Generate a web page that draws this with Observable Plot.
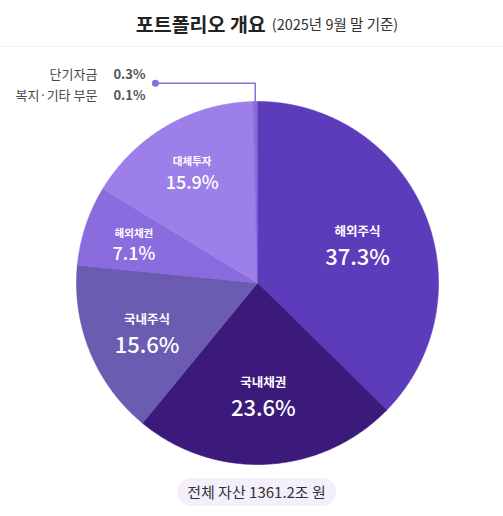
<!DOCTYPE html>
<html><head><meta charset="utf-8">
<script src="https://cdn.jsdelivr.net/npm/d3@7"></script>
<script src="https://cdn.jsdelivr.net/npm/@observablehq/plot@0.6"></script>
<style>
body{margin:0;background:#fff;font-family:"Noto Sans CJK KR","Noto Sans",sans-serif;width:503px;}
#title{height:47px;border-bottom:1.5px solid #f1eff8;display:flex;align-items:center;justify-content:center;padding-left:31px;box-sizing:border-box;color:#222;}
#title b{font-size:19.5px;font-weight:700;}
#title span{font-size:14.5px;margin-left:6px;color:#333;}
#pill{display:flex;justify-content:center;margin-top:1px;}
#pill div{background:#f3f0fb;border-radius:14px;height:28px;line-height:28px;padding:0 10px;font-size:15px;color:#333;margin-left:10px;}
</style></head>
<body>
<div id="title"><b>포트폴리오 개요</b><span>(2025년 9월 말 기준)</span></div>
<div id="chart"></div>
<div id="pill"><div>전체 자산 1361.2조 원</div></div>
<script>
const names = ["해외주식","국내채권","국내주식","해외채권","대체투자","단기자금","복지·기타 부문"];
const shares = [37.3, 23.6, 15.6, 7.1, 15.9, 0.3, 0.1];
const colors = ["#5d3cbc","#3b1a7c","#6b5cb2","#8a6cdf","#9d7fe9","#8a6cdf","#7a5fd0"];
const outsideNames = ["단기자금","복지·기타 부문"];

const data = names.map((n,i)=>({name:n, share:shares[i]}));
const arcs = d3.pie().sort(null).value(d=>d.share)(data);

// slice polygons
const poly = [];
arcs.forEach(a=>{
  const n = Math.max(2, Math.ceil((a.endAngle-a.startAngle)/(Math.PI/360)));
  poly.push({name:a.data.name, x:0, y:0});
  for(let k=0;k<=n;k++){
    const t = a.startAngle + (a.endAngle-a.startAngle)*k/n;
    poly.push({name:a.data.name, x:Math.sin(t), y:Math.cos(t)});
  }
  poly.push({name:a.data.name, x:0, y:0});
});

const inside = arcs.filter(a=>!outsideNames.includes(a.data.name)).map(a=>{
  const m=(a.startAngle+a.endAngle)/2;
  const big = a.data.share>15 && m<1.5*Math.PI;
  const r = a.data.share>20?0.6:(big?0.66:0.72);
  return {name:a.data.name, pct:a.data.share.toFixed(1)+"%", x:r*Math.sin(m), y:r*Math.cos(m), big};
});
const bigL = inside.filter(d=>d.big), smallL = inside.filter(d=>!d.big);

// leader for small slices
const small = arcs.filter(a=>outsideNames.includes(a.data.name));
const sa = (small[0].startAngle+small[small.length-1].endAngle)/2;
const rimX = Math.sin(sa), rimY = Math.cos(sa);
const leaderY = 1.1, leaderX = -0.564;
const leader = [{x:rimX,y:rimY},{x:rimX,y:leaderY},{x:leaderX,y:leaderY}];
const outLabels = small.map(a=>({name:a.data.name, pct:a.data.share.toFixed(1)+"%", x:leaderX, y:leaderY}));

const font = '"Noto Sans CJK KR","Noto Sans",sans-serif';
const plot = Plot.plot({
  width:503, height:430,
  marginLeft:76, marginRight:65, marginTop:54, marginBottom:13,
  x:{domain:[-1,1], axis:null},
  y:{domain:[-1,1], axis:null},
  color:{domain:names, range:colors},
  style:{fontFamily:font, overflow:"visible"},
  marks:[
    Plot.line(poly,{x:"x",y:"y",z:"name",fill:"name",stroke:"name",strokeWidth:0.6,curve:"linear"}),
    Plot.line(leader,{x:"x",y:"y",stroke:"#8a6cdf",strokeWidth:1.5}),
    Plot.dot([leader[2]],{x:"x",y:"y",r:3.5,fill:"#8a6cdf"}),
    Plot.text(outLabels.slice(0,1),{x:"x",y:"y",text:"name",textAnchor:"end",dx:-58,dy:-9,fontSize:13,fill:"#4a4a4a"}),
    Plot.text(outLabels.slice(1,2),{x:"x",y:"y",text:"name",textAnchor:"end",dx:-58,dy:12,fontSize:13,fill:"#4a4a4a"}),
    Plot.text(outLabels.slice(0,1),{x:"x",y:"y",text:"pct",textAnchor:"start",dx:-42,dy:-9,fontSize:13,fontWeight:600,fill:"#555"}),
    Plot.text(outLabels.slice(1,2),{x:"x",y:"y",text:"pct",textAnchor:"start",dx:-42,dy:12,fontSize:13,fontWeight:600,fill:"#555"}),
    Plot.text(bigL,{x:"x",y:"y",text:"name",dy:-9,fontSize:12.5,fontWeight:700,fill:"white"}),
    Plot.text(bigL,{x:"x",y:"y",text:"pct",dy:17,fontSize:22,fontWeight:500,fill:"white"}),
    Plot.text(smallL,{x:"x",y:"y",text:"name",dy:-8,fontSize:10.5,fontWeight:700,fill:"white"}),
    Plot.text(smallL,{x:"x",y:"y",text:"pct",dy:13,fontSize:18,fontWeight:500,fill:"white"})
  ]
});
document.getElementById("chart").appendChild(plot);
</script>
</body></html>
